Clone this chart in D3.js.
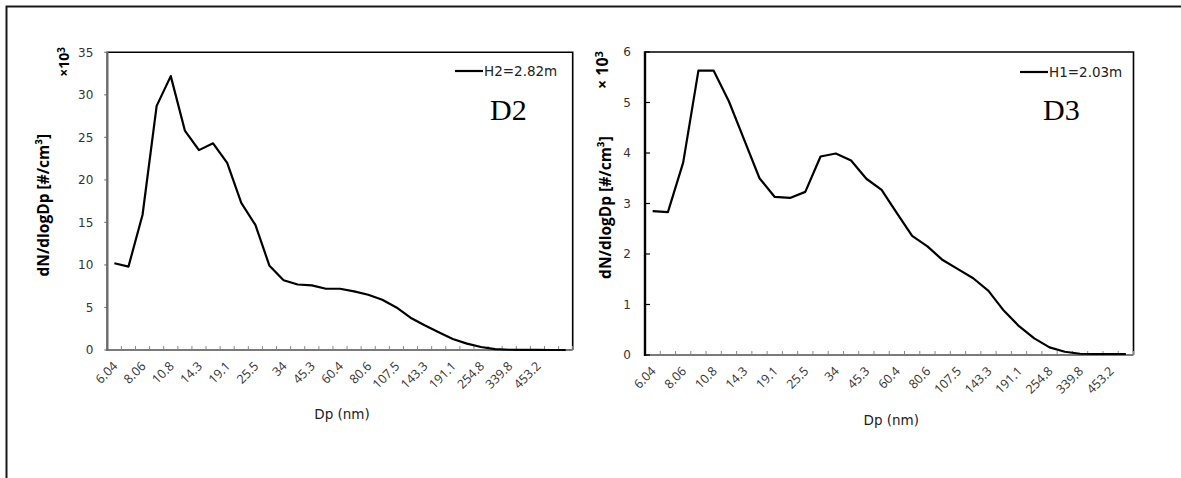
<!DOCTYPE html>
<html><head><meta charset="utf-8">
<script src="https://cdn.jsdelivr.net/npm/d3@7"></script>
<style>body{margin:0;background:#fff}svg{display:block}</style>
</head><body><svg id="c" width="1181" height="478"></svg>
<script>
// ---- data ----
const categoriesD2 = ["6.04","6.98","8.06","9.31","10.8","12.4","14.3","16.5","19.1","22.1","25.5","29.4","34","39.2","45.3","52.3","60.4","69.8","80.6","93.1","107.5","124.1","143.3","165.5","191.1","220.7","254.8","294.3","339.8","392.4","453.2","523.3","604.3"];
const categoriesD3 = ["6.04","6.98","8.06","9.31","10.8","12.4","14.3","16.5","19.1","22.1","25.5","29.4","34","39.2","45.3","52.3","60.4","69.8","80.6","93.1","107.5","124.1","143.3","165.5","191.1","220.7","254.8","294.3","339.8","392.4","453.2","523.3"];
const tickLabels = ["6.04","8.06","10.8","14.3","19.1","25.5","34","45.3","60.4","80.6","107.5","143.3","191.1","254.8","339.8","453.2"];
const valuesD2 = [10.2,9.8,15.9,28.7,32.2,25.8,23.5,24.3,22.0,17.3,14.7,9.9,8.2,7.7,7.6,7.2,7.2,6.9,6.5,5.9,5.0,3.8,2.9,2.1,1.3,0.75,0.35,0.1,0.03,0.01,0.01,0.0,0.0];
const valuesD3 = [2.85,2.83,3.81,5.63,5.63,5.02,4.26,3.50,3.13,3.11,3.23,3.93,3.99,3.85,3.49,3.27,2.81,2.36,2.15,1.88,1.70,1.52,1.27,0.88,0.57,0.33,0.15,0.065,0.025,0.02,0.02,0.02];
const yTicksD2 = [0,5,10,15,20,25,30,35];
const yTicksD3 = [0,1,2,3,4,5,6];
const seriesNames = ["H2=2.82m","H1=2.03m"];
const panelTitles = ["D2","D3"];
const yTitle = "dN/dlogDp [#/cm³]";
const xTitle = "Dp (nm)";

// ---- layout ----
const svg = d3.select("#c");
svg.append("path").attr("d","M6.5,478V6.5H1181").attr("fill","none").attr("stroke","#1a1a1a").attr("stroke-width",2);

const panels = [
  {cats:categoriesD2, vals:valuesD2, yt:yTicksD2, ymax:35, name:seriesNames[0], title:panelTitles[0],
   x0:107.3, x1:572.7, y0:52.3, y1:350, leftAxisColor:"#6b6b6b", yTickOut:true,
   ytx:43, multX:64, multY:62, multSize:14, multText:"×10", legX:455, legY:71, titleX:490, xtY:414},
  {cats:categoriesD3, vals:valuesD3, yt:yTicksD3, ymax:6, name:seriesNames[1], title:panelTitles[1],
   x0:645, x1:1133.5, y0:52, y1:355, leftAxisColor:"#000", yTickOut:false,
   ytx:605, multX:602, multY:70, multSize:16, multText:"× 10", legX:1020, legY:72, titleX:1043, xtY:420}
];

panels.forEach(p => {
  const g = svg.append("g");
  const x = d3.scaleBand().domain(p.cats).range([p.x0, p.x1]).padding(0);
  const y = d3.scaleLinear().domain([0, p.ymax]).range([p.y1, p.y0]);
  const bw = x.bandwidth();

  // plot border: top & right
  g.append("path").attr("d",`M${p.x0},${p.y0}H${p.x1}V${p.y1}`).attr("fill","none").attr("stroke","#000").attr("stroke-width",1.6);

  // x ticks at category boundaries
  const bounds = p.cats.map(c => x(c)).concat([p.x1]);
  g.selectAll(".xt").data(bounds).join("line")
    .attr("x1",d=>d).attr("x2",d=>d).attr("y1",p.y1).attr("y2",p.y1-4)
    .attr("stroke","#8a8a8a").attr("stroke-width",1);
  // bottom axis
  g.append("line").attr("x1",p.x0).attr("x2",p.x1).attr("y1",p.y1).attr("y2",p.y1)
    .attr("stroke","#7a7a7a").attr("stroke-width",2);

  // y ticks
  g.selectAll(".yt").data(p.yt).join("line")
    .attr("x1",p.x0).attr("x2",p.yTickOut ? p.x0-3 : p.x0+5)
    .attr("y1",d=>y(d)).attr("y2",d=>y(d))
    .attr("stroke",p.yTickOut ? "#7a7a7a" : "#000").attr("stroke-width",1.2);
  // left axis
  g.append("line").attr("x1",p.x0).attr("x2",p.x0).attr("y1",p.y0-0.8).attr("y2",p.y1+1)
    .attr("stroke",p.leftAxisColor).attr("stroke-width",2.4);

  // y tick labels
  g.selectAll(".yl").data(p.yt).join("text")
    .attr("x",p.x0-14).attr("y",d=>y(d)).attr("dy","0.36em")
    .attr("text-anchor","end").attr("font-family","DejaVu Sans").attr("font-size",12)
    .attr("fill","#333").text(d=>d);

  // x tick labels (rotated)
  g.selectAll(".xl").data(tickLabels).join("text")
    .attr("transform",d=>`translate(${x(d)+bw/2+4},${p.y1+17}) rotate(-45)`)
    .attr("text-anchor","end").attr("font-family","Open Sans").attr("font-size",12.5)
    .attr("fill","#333").text(d=>d);

  // line
  const line = d3.line().x((d,i)=>x(p.cats[i])+bw/2).y(d=>y(d));
  g.append("path").datum(p.vals).attr("d",line).attr("fill","none")
    .attr("stroke","#000").attr("stroke-width",2.2).attr("stroke-linejoin","round");

  // legend
  g.append("line").attr("x1",p.legX).attr("x2",p.legX+28).attr("y1",p.legY).attr("y2",p.legY)
    .attr("stroke","#000").attr("stroke-width",2.2);
  g.append("text").attr("x",p.legX+29).attr("y",p.legY).attr("dy","0.36em")
    .attr("font-family","DejaVu Sans").attr("font-size",13.5).attr("fill","#222").text(p.name);

  // panel title
  g.append("text").attr("x",p.titleX).attr("y",120).attr("font-family","Liberation Serif")
    .attr("font-size",30).attr("fill","#000").text(p.title);

  // axis titles
  g.append("text").attr("transform",`translate(${p.ytx},${(p.y0+p.y1)/2+4}) rotate(-90)`)
    .attr("text-anchor","middle").attr("dy","0.36em").attr("font-family","Open Sans")
    .attr("font-weight","bold").attr("font-size",15.5).attr("fill","#000").text(yTitle);
  const m = g.append("text").attr("transform",`translate(${p.multX},${p.multY}) rotate(-90)`)
    .attr("text-anchor","middle").attr("dy","0.36em").attr("font-family","Open Sans")
    .attr("font-weight","bold").attr("font-size",p.multSize).attr("fill","#000");
  m.append("tspan").text(p.multText);
  m.append("tspan").attr("dy","-0.45em").attr("font-size",p.multSize*0.7).text("3");

  g.append("text").attr("x",(p.x0+p.x1)/2+2).attr("y",p.xtY).attr("dy","0.36em")
    .attr("text-anchor","middle").attr("font-family","DejaVu Sans").attr("font-size",13.5)
    .attr("fill","#222").text(xTitle);
});
</script></body></html>
